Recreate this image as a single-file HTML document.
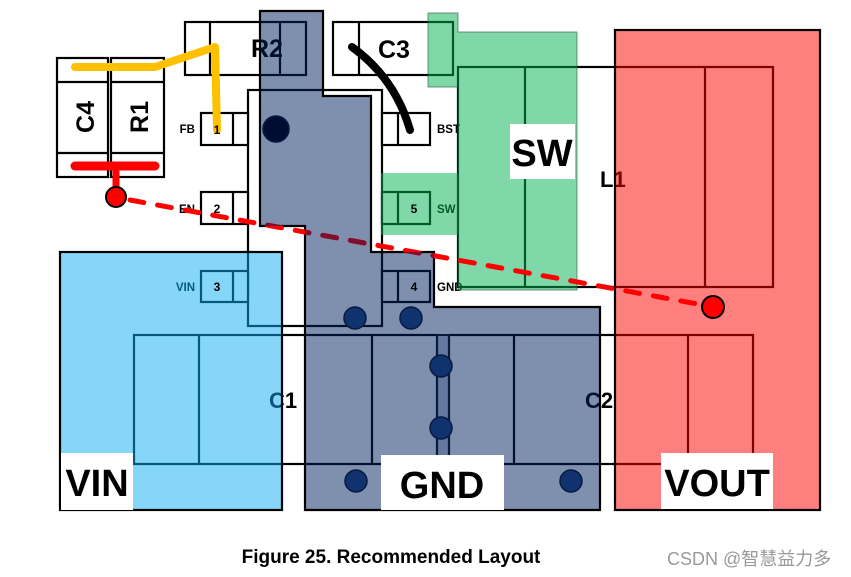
<!DOCTYPE html>
<html><head><meta charset="utf-8"><style>
html,body{margin:0;padding:0;background:#fff;width:851px;height:577px;overflow:hidden}
svg{display:block}
text{font-family:"Liberation Sans","DejaVu Sans",sans-serif;font-weight:bold}
</style></head><body>
<svg width="851" height="577" viewBox="0 0 851 577" xmlns="http://www.w3.org/2000/svg">
<defs>
<clipPath id="gndclip"><polygon points="260,11 323,11 323,96 371,96 371,252 434,252 434,307 600,307 600,510 305,510 305,226 260,226"/></clipPath>
</defs>
<g fill="#fff" stroke="#000" stroke-width="2.2">
<rect x="57" y="58" width="51" height="119"/><line x1="57" y1="82" x2="108" y2="82"/><line x1="57" y1="153" x2="108" y2="153"/>
<rect x="111" y="58" width="53" height="119"/><line x1="111" y1="82" x2="164" y2="82"/><line x1="111" y1="153" x2="164" y2="153"/>
<rect x="185" y="22" width="121" height="53"/><line x1="210" y1="22" x2="210" y2="75"/><line x1="280" y1="22" x2="280" y2="75"/>
<rect x="333" y="22" width="120" height="53"/><line x1="359" y1="22" x2="359" y2="75"/>
<rect x="458" y="67" width="315" height="220"/><line x1="525" y1="67" x2="525" y2="287"/><line x1="705" y1="67" x2="705" y2="287"/>
<rect x="248" y="90" width="134" height="236"/>
<rect x="201" y="113" width="47" height="32"/><line x1="233" y1="113" x2="233" y2="145"/>
<rect x="201" y="192" width="47" height="32"/><line x1="233" y1="192" x2="233" y2="224"/>
<rect x="201" y="271" width="47" height="31"/><line x1="233" y1="271" x2="233" y2="302"/>
<rect x="382" y="113" width="48" height="32"/><line x1="398" y1="113" x2="398" y2="145"/>
<rect x="382" y="192" width="48" height="32"/><line x1="398" y1="192" x2="398" y2="224"/>
<rect x="382" y="271" width="48" height="31"/><line x1="398" y1="271" x2="398" y2="302"/>
<rect x="134" y="335" width="303" height="129"/><line x1="199" y1="335" x2="199" y2="464"/><line x1="372" y1="335" x2="372" y2="464"/>
<rect x="449" y="335" width="304" height="129"/><line x1="514" y1="335" x2="514" y2="464"/><line x1="688" y1="335" x2="688" y2="464"/>
</g>
<g fill="#000">
<text x="251" y="57" font-size="25">R2</text>
<text x="378" y="58" font-size="25">C3</text>
<text transform="translate(94,117) rotate(-90)" font-size="25" text-anchor="middle">C4</text>
<text transform="translate(148,117) rotate(-90)" font-size="25" text-anchor="middle">R1</text>
<text x="195" y="133" font-size="11.5" text-anchor="end">FB</text>
<text x="195" y="213" font-size="11.5" text-anchor="end">EN</text>
<text x="195" y="291" font-size="11.5" text-anchor="end">VIN</text>
<text x="437" y="133" font-size="11.5">BST</text>
<text x="437" y="213" font-size="11.5">SW</text>
<text x="437" y="291" font-size="11.5">GND</text>
<text x="600" y="187" font-size="22">L1</text>
<text x="269" y="408" font-size="22">C1</text>
<text x="585" y="408" font-size="22">C2</text>
</g>
<g stroke="#000" stroke-width="2.2">
<rect x="60" y="252" width="222" height="258" fill="#0badf1" fill-opacity="0.5"/>
<rect x="615" y="30" width="205" height="480" fill="#ff0000" fill-opacity="0.5"/>
<polygon points="428,13 458,13 458,32 577,32 577,290 458,290 458,87 428,87" fill="#01b151" fill-opacity="0.5" stroke="#2a5a3a" stroke-opacity="0.5" stroke-width="1.2"/>
<rect x="381" y="173" width="77" height="62" fill="#01b151" fill-opacity="0.5" stroke="none"/>
<polygon points="260,11 323,11 323,96 371,96 371,252 434,252 434,307 600,307 600,510 305,510 305,226 260,226" fill="#001f5d" fill-opacity="0.5"/>
</g>
<rect x="437" y="335" width="12" height="129" fill="#001f5d" fill-opacity="0.2" stroke="#0a1a3a" stroke-width="2"/>
<polyline points="75,67 155,67 215,47 217,130" fill="none" stroke="#ffc000" stroke-width="8" stroke-linecap="round" stroke-linejoin="round"/>
<path d="M352,47 Q395,78 410,130" fill="none" stroke="#000" stroke-width="8" stroke-linecap="round"/>
<g fill="#000">
<text x="217" y="134" font-size="12" text-anchor="middle">1</text>
<text x="217" y="213" font-size="12" text-anchor="middle">2</text>
<text x="217" y="291" font-size="12" text-anchor="middle">3</text>
<text x="414" y="213" font-size="12" text-anchor="middle">5</text>
<text x="414" y="291" font-size="12" text-anchor="middle">4</text>
</g>
<line x1="75" y1="166" x2="155" y2="166" stroke="#f00" stroke-width="9" stroke-linecap="round"/>
<line x1="116" y1="166" x2="116" y2="195" stroke="#f00" stroke-width="7"/>
<line x1="130" y1="200" x2="703" y2="305" stroke="#f00" stroke-width="5" stroke-dasharray="14,14" stroke-linecap="round"/>
<line x1="130" y1="200" x2="703" y2="305" stroke="#7d1030" stroke-width="5" stroke-dasharray="14,14" stroke-linecap="round" clip-path="url(#gndclip)"/>
<circle cx="116" cy="197" r="10" fill="#f00" stroke="#000" stroke-width="2"/>
<circle cx="713" cy="307" r="11" fill="#f00" stroke="#000" stroke-width="2"/>
<g fill="#103370" stroke="#061a40" stroke-width="1.5">
<circle cx="276" cy="129" r="13" fill="#000d33"/>
<circle cx="355" cy="318" r="11"/><circle cx="411" cy="318" r="11"/>
<circle cx="441" cy="366" r="11"/><circle cx="441" cy="428" r="11"/>
<circle cx="356" cy="481" r="11"/><circle cx="571" cy="481" r="11"/>
</g>
<rect x="61" y="453" width="72" height="57" fill="#fff"/>
<text x="97" y="496" font-size="38" text-anchor="middle">VIN</text>
<rect x="381" y="455" width="123" height="55" fill="#fff"/>
<text x="442" y="498" font-size="38" text-anchor="middle">GND</text>
<rect x="510" y="124" width="65" height="55" fill="#fff"/>
<text x="542" y="166" font-size="38" text-anchor="middle">SW</text>
<rect x="661" y="453" width="112" height="56" fill="#fff"/>
<text x="717" y="496" font-size="38" text-anchor="middle">VOUT</text>
<text x="391" y="563" font-size="19" text-anchor="middle">Figure 25. Recommended Layout</text>
<text x="667" y="565" font-size="18" fill="#999" style="font-weight:normal;font-family:'Liberation Sans','Noto Sans CJK SC',sans-serif">CSDN @智慧益力多</text>
</svg>
</body></html>
